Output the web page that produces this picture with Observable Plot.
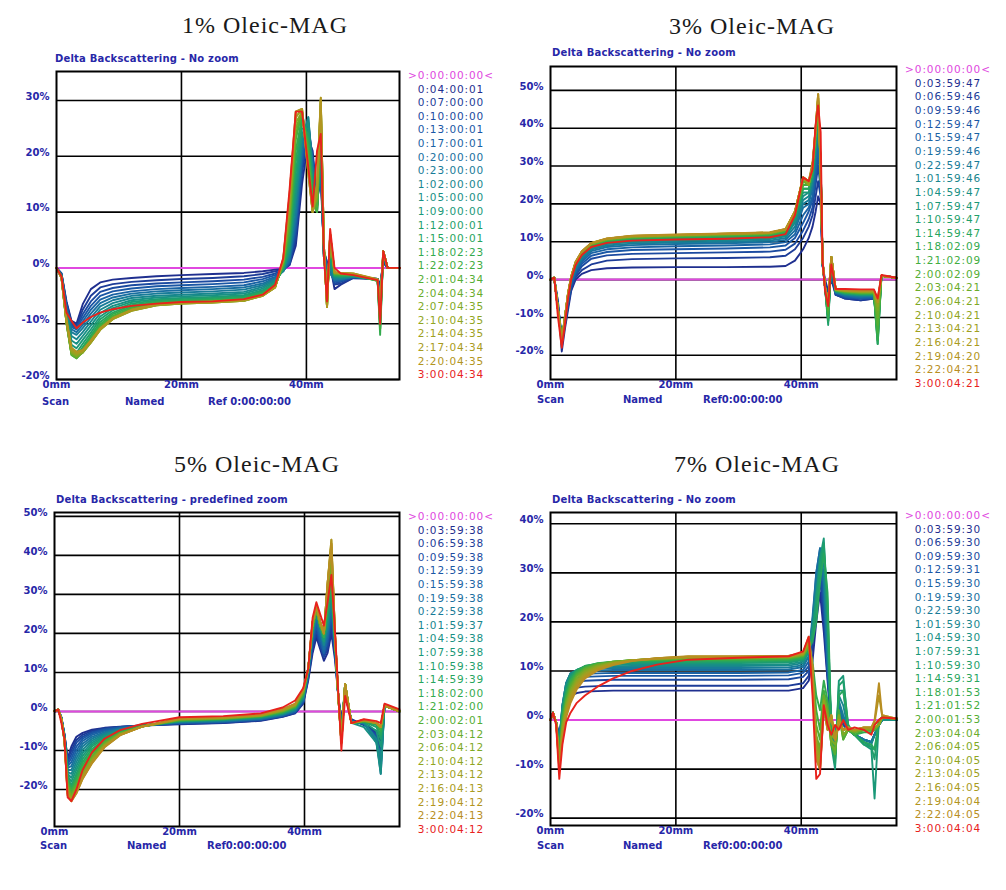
<!DOCTYPE html>
<html><head><meta charset="utf-8">
<script src="https://cdn.jsdelivr.net/npm/d3@7"></script>
<script src="https://cdn.jsdelivr.net/npm/@observablehq/plot@0.6"></script>
<style>
body{margin:0;background:#fff;}
#root{position:relative;width:1006px;height:890px;overflow:hidden;background:#fff;}
.t{position:absolute;white-space:nowrap;line-height:1;}
.p{position:absolute;}
</style></head><body><div id="root"></div>
<script>
// ---------- DATA ----------
const titles = ["1% Oleic-MAG", "3% Oleic-MAG", "5% Oleic-MAG", "7% Oleic-MAG"];
const subtitles = ["Delta Backscattering - No zoom", "Delta Backscattering - No zoom", "Delta Backscattering - predefined zoom", "Delta Backscattering - No zoom"];
const xTicks = [0, 20, 40];
const refLabels = ["Ref 0:00:00:00", "Ref0:00:00:00", "Ref0:00:00:00", "Ref0:00:00:00"];

const legend1 = [">0:00:00:00<","0:04:00:01","0:07:00:00","0:10:00:00","0:13:00:01","0:17:00:01","0:20:00:00","0:23:00:00","1:02:00:00","1:05:00:00","1:09:00:00","1:12:00:01","1:15:00:01","1:18:02:23","1:22:02:23","2:01:04:34","2:04:04:34","2:07:04:35","2:10:04:35","2:14:04:35","2:17:04:34","2:20:04:35","3:00:04:34"];
const legend2 = [">0:00:00:00<","0:03:59:47","0:06:59:46","0:09:59:46","0:12:59:47","0:15:59:47","0:19:59:46","0:22:59:47","1:01:59:46","1:04:59:47","1:07:59:47","1:10:59:47","1:14:59:47","1:18:02:09","1:21:02:09","2:00:02:09","2:03:04:21","2:06:04:21","2:10:04:21","2:13:04:21","2:16:04:21","2:19:04:20","2:22:04:21","3:00:04:21"];
const legend3 = [">0:00:00:00<","0:03:59:38","0:06:59:38","0:09:59:38","0:12:59:39","0:15:59:38","0:19:59:38","0:22:59:38","1:01:59:37","1:04:59:38","1:07:59:38","1:10:59:38","1:14:59:39","1:18:02:00","1:21:02:00","2:00:02:01","2:03:04:12","2:06:04:12","2:10:04:12","2:13:04:12","2:16:04:13","2:19:04:12","2:22:04:13","3:00:04:12"];
const legend4 = [">0:00:00:00<","0:03:59:30","0:06:59:30","0:09:59:30","0:12:59:31","0:15:59:30","0:19:59:30","0:22:59:30","1:01:59:30","1:04:59:30","1:07:59:31","1:10:59:30","1:14:59:31","1:18:01:53","1:21:01:52","2:00:01:53","2:03:04:04","2:06:04:05","2:10:04:05","2:13:04:05","2:16:04:05","2:19:04:04","2:22:04:05","3:00:04:04"];

const yTicks1 = [-20,-10,0,10,20,30];
const yTicks2 = [-20,-10,0,10,20,30,40,50];
const yTicks3 = [-20,-10,0,10,20,30,40,50];
const yTicks4 = [-20,-10,0,10,20,30,40];

// Panel 1 (1%) : positions in mm, delta backscattering in %
const xs1 = [0,0.8,1.6,2.4,3.2,4.2,5.5,7,9,12,16,20,25,30,33,35,36.3,37.3,38.3,39.3,40.3,41,41.7,42.3,42.8,43.3,43.8,44.5,45.5,47.5,51.4,51.8,52.3,53,55];
const rows1 = [
[0,-1,-6,-9.5,-10,-6.5,-3.8,-2.6,-2.1,-1.8,-1.5,-1.3,-1.1,-0.9,-0.6,-0.3,-0.2,0.5,4,15,23,21,12,16,3,1,0.5,-3.8,-3,-1.8,-2,-3,1,0,0],
[0,-1,-6.3,-9.8,-10.3,-7.5,-5,-3.5,-2.9,-2.5,-2.2,-2,-1.8,-1.5,-1.1,-0.6,-0.3,0.6,5,17,24,20,12,17,3,1,0,-3,-2.8,-1.8,-2,-3.5,1,0,0],
[0,-1.1,-6.5,-10,-10.6,-8.3,-6,-4.3,-3.6,-3.1,-2.8,-2.6,-2.4,-2.1,-1.6,-1,-0.4,0.8,6,18,25,20,12,18,2.5,0.5,0,-2.8,-2.5,-1.7,-2,-4,1.5,0,0],
[0,-1.2,-6.8,-10.3,-10.8,-9,-6.8,-5,-4.2,-3.7,-3.3,-3.1,-2.9,-2.6,-2,-1.3,-0.5,1,7,19,25,19,12,18,2.5,0.5,0,-2.5,-2.3,-1.7,-2,-4.5,1.5,0,0],
[0,-1.2,-7,-10.6,-11,-9.6,-7.5,-5.7,-4.8,-4.2,-3.8,-3.6,-3.4,-3.1,-2.4,-1.6,-0.6,1.2,8,20,26,19,12,19,2,0,-0.5,-2.3,-2.2,-1.6,-2,-5,2,0,0],
[0,-1.3,-7.3,-11,-11.5,-10.2,-8.2,-6.3,-5.3,-4.6,-4.2,-4,-3.8,-3.5,-2.8,-1.8,-0.6,1.5,9,21,26,18,11,19,2,0,-1,-2.2,-2,-1.6,-2,-6,2,0,0],
[0,-1.3,-7.6,-11.5,-12,-10.8,-8.9,-6.9,-5.8,-5,-4.6,-4.4,-4.2,-3.9,-3.1,-2,-0.5,2,10,22,27,18,11,20,2,-1,-1,-2,-2,-1.6,-2.1,-7,2,0,0],
[0,-1.4,-8,-12.2,-12.8,-11.5,-9.6,-7.5,-6.3,-5.4,-5,-4.8,-4.6,-4.3,-3.4,-2.2,-0.4,2.5,12,23,27,17,11,21,2,-2,0,-1.8,-1.8,-1.5,-2.1,-8,2.5,0,0],
[0,-1.4,-8.3,-13,-13.6,-12.2,-10.3,-8.1,-6.8,-5.8,-5.3,-5.1,-4.9,-4.6,-3.7,-2.4,-0.3,3,13,24,26,16,11,22,2,-3,1,-1.6,-1.7,-1.5,-2.1,-9,2.5,0,0],
[0,-1.5,-8.6,-13.8,-14.4,-12.9,-11,-8.7,-7.2,-6.1,-5.6,-5.4,-5.2,-4.9,-4,-2.6,-0.2,3.5,15,25,25,15,10,23,2,-4,2,-1.5,-1.6,-1.4,-2.2,-9.5,2.5,0,0],
[0,-1.5,-9,-14.5,-15.2,-13.6,-11.6,-9.2,-7.6,-6.4,-5.8,-5.6,-5.4,-5.1,-4.2,-2.8,0,4,17,26,24,14,10,24,2.5,-5,3,-1.4,-1.5,-1.4,-2.2,-10,3,0,0],
[0,-1.6,-9.3,-15,-15.8,-14.2,-12.1,-9.7,-8,-6.7,-6,-5.8,-5.6,-5.3,-4.4,-3,0.2,5,19,27,23,13,10,25,3,-5,4,-1.3,-1.4,-1.3,-2.3,-11,3,0,0],
[0,-1.6,-9.6,-15.4,-16,-14.6,-12.5,-10.1,-8.3,-7,-6.2,-6,-5.8,-5.5,-4.6,-3.1,0.4,6,21,27,22,12,10,26,3,-6,5,-1.2,-1.3,-1.3,-2.3,-12,3,0,0],
[0,-1.7,-9.8,-15.6,-16.2,-14.9,-12.8,-10.4,-8.6,-7.2,-6.4,-6.1,-5.9,-5.6,-4.7,-3.2,0.6,7,23,28,21,12,10,27,3.5,-6,5,-1.1,-1.2,-1.2,-2.3,-11,3,0,0],
[0,-1.7,-10,-15.6,-16.2,-15.1,-13.1,-10.7,-8.8,-7.4,-6.5,-6.2,-6,-5.7,-4.8,-3.3,0.8,8,24,28,20,11,11,28,4,-7,6,-1,-1.1,-1.2,-2.2,-10,3,0,0],
[0,-1.8,-10,-15.4,-16,-15.2,-13.3,-10.9,-9,-7.5,-6.6,-6.3,-6.1,-5.8,-4.9,-3.4,1,9,25,28,19,11,12,29,4,-7,6,-1,-1.1,-1.2,-2.2,-9,3,0,0],
[0,-1.8,-9.9,-15.2,-15.8,-15.2,-13.4,-11,-9.1,-7.6,-6.7,-6.4,-6.2,-5.9,-5,-3.4,1.2,10,26,28,18,10,13,30,4,-7,6,-0.9,-1,-1.1,-2.2,-8,3,0,0],
[0,-1.8,-9.8,-15,-15.6,-15.1,-13.4,-11.1,-9.2,-7.7,-6.7,-6.4,-6.2,-5.9,-5,-3.5,1.4,11,27,28.5,18,10,13,30,4,-7,6,-0.9,-1,-1.1,-2.1,-7,3,0,0],
[0,-1.8,-9.6,-14.8,-15.4,-15,-13.3,-11.1,-9.2,-7.7,-6.7,-6.4,-6.2,-5.9,-5,-3.5,1.5,12,27,28.5,17,10,14,30,4,-7,6,-0.8,-1,-1.1,-2.1,-7,3,0,0],
[0,-1.8,-9.4,-14.5,-15.2,-14.9,-13.2,-11,-9.1,-7.6,-6.6,-6.3,-6.1,-5.8,-5,-3.5,1.6,13,28,28.5,17,10,15,30.5,4,-7,6,-0.8,-0.9,-1,-2.1,-7,3,0,0],
[0,-1.8,-9.2,-14.3,-15,-14.7,-13,-10.8,-9,-7.5,-6.5,-6.2,-6,-5.7,-4.9,-3.4,1.7,13,28,28.5,17,10,15,30.5,4,-7,6,-0.7,-0.9,-1,-2,-7,3,0,0],
[0,-1.5,-8,-9.5,-10.8,-9.8,-8.8,-8,-7.4,-6.8,-6.4,-6.1,-6,-5.6,-4.8,-3,1.8,14,28,28,18,11,21,24,2,-6,7,0,-1,-1.3,-2.2,-10,3,0,0]
];

// Panel 2 (3%)
const xs2 = [0,0.6,1.2,1.8,2.3,2.8,3.3,4,5,6.5,9,13,20,28,35,37.5,39,40.3,41.2,41.8,42.3,42.7,43.1,43.4,43.8,44.3,44.8,45.5,47,49.5,51.6,52.2,52.8,55.2];
const rows2 = [
[0,0.3,-6,-19,-13,-8,-3,0,1.5,2.5,3,3.2,3.3,3.3,3.4,3.6,5,8,11,14,18,22,20,4,0,-3,0,-4,-5,-5.5,-5,-6,1,0.5],
[0,0.3,-6,-17,-12,-7,-2.5,0.5,2.5,4,5,5.4,5.6,5.7,5.9,6.3,8,11,14,17,22,26,22,4,-1,-4,1,-4,-5,-5.5,-5,-8,1,0.5],
[0,0.3,-7,-16,-12,-6.5,-2,1,3.5,5.5,6.4,6.8,7,7.2,7.4,7.9,9.5,13,16,19,25,30,24,4,-1,-5,2,-4,-4.8,-5,-5,-9,1,0.5],
[0,0.4,-7,-15,-11,-6,-1.5,1.5,4.2,6.3,7.3,7.8,8,8.2,8.5,9,11,15,18,21,27,33,26,4,-1,-6,3,-3.5,-4.6,-5,-4.8,-10,1,0.5],
[0,0.4,-7,-15,-11,-5.5,-1,2,4.8,7,8,8.5,8.8,9,9.3,9.9,12,17,19,22,29,35,27,4,-2,-7,3,-3.5,-4.4,-4.8,-4.6,-11,1,0.5],
[0,0.4,-8,-15,-11,-5,-0.5,2.5,5.3,7.5,8.6,9.1,9.4,9.6,9.9,10.5,13,19,20,24,31,37,28,4,-2,-8,4,-3.5,-4.2,-4.6,-4.4,-12,1,0.5],
[0,0.4,-8,-15,-11,-5,0,3,5.7,7.9,9,9.5,9.8,10,10.3,11,14,20,21,25,33,39,29,4.5,-2,-9,4,-3.4,-4,-4.4,-4.3,-13,1,0.5],
[0,0.4,-8,-16,-11,-4.5,0,3.3,6,8.2,9.4,9.9,10.2,10.4,10.7,11.4,15,21,22,26,34,41,30,4.5,-2,-10,5,-3.3,-3.9,-4.2,-4.2,-14,1,0.5],
[0,0.5,-8,-16,-11,-4.5,0,3.5,6.3,8.5,9.7,10.2,10.5,10.7,11,11.7,15.5,22,23,27,35,42,31,4.5,-2,-11,5,-3.2,-3.8,-4.1,-4.1,-15,1,0.5],
[0,0.5,-8,-16,-10.5,-4.3,0.2,3.7,6.5,8.7,9.9,10.5,10.8,11,11.3,12,16,23,23,27,36,43,31,4.5,-2,-11,5,-3.1,-3.7,-4,-4,-16,1,0.5],
[0,0.5,-8,-16,-10.5,-4.2,0.3,3.8,6.7,8.9,10.1,10.7,11,11.2,11.5,12.3,16.5,24,24,28,37,44,31,5,-2,-12,5,-3,-3.6,-3.9,-3.9,-17,1,0.5],
[0,0.5,-8,-16,-10.5,-4,0.4,4,6.8,9,10.2,10.9,11.2,11.4,11.7,12.5,17,24,24,28,37,45,31,5,-2,-11,6,-3,-3.5,-3.8,-3.8,-17,1,0.5],
[0,0.5,-8,-16,-10,-4,0.5,4.1,6.9,9.1,10.3,11,11.3,11.5,11.9,12.7,17,25,25,29,38,46,31,5,-2,-10,6,-2.9,-3.4,-3.7,-3.7,-16,1,0.5],
[0,0.5,-8,-16,-10,-4,0.5,4.2,7,9.2,10.4,11.1,11.4,11.7,12,12.8,17,25,25,29,38,46,30,5,-2,-9,6,-2.9,-3.3,-3.6,-3.6,-14,1,0.5],
[0,0.5,-8,-16,-10,-4,0.6,4.3,7.1,9.3,10.5,11.2,11.5,11.8,12.1,13,17,26,25,30,38,47,30,5,-2,-8,6,-2.8,-3.2,-3.5,-3.5,-12,1,0.5],
[0,0.5,-8,-16,-10,-3.8,0.6,4.4,7.2,9.4,10.6,11.3,11.6,11.9,12.2,13.1,17.5,26,25,30,39,47,30,5,-2,-7,6,-2.8,-3.1,-3.4,-3.4,-10,1,0.5],
[0,0.5,-8,-16,-10,-3.8,0.7,4.5,7.3,9.5,10.7,11.4,11.7,12,12.3,13.2,18,27,25,30,39,48,30,5,-2,-6,6,-2.7,-3,-3.3,-3.3,-8,1,0.5],
[0,0.5,-8,-16,-10,-3.7,0.7,4.5,7.3,9.5,10.7,11.4,11.7,12,12.3,13.2,18,27,25,30,39,48,29,5,-2,-6,6,-2.7,-3,-3.2,-3.2,-7,1,0.5],
[0,0.5,-8,-17,-10,-3.7,0.8,4.6,7.4,9.6,10.8,11.5,11.8,12.1,12.4,13.3,18,27,26,30,40,48,29,5,-2,-6,6,-2.6,-2.9,-3.1,-3.1,-6,1,0.5],
[0,0.5,-8,-17,-10,-3.6,0.8,4.6,7.4,9.6,10.8,11.5,11.8,12.1,12.4,13.3,18,27,26,30,40,49,29,5,-2,-6,6,-2.6,-2.8,-3,-3,-6,1,0.5],
[0,0.5,-8,-17,-10,-3.6,0.8,4.6,7.4,9.6,10.8,11.5,11.8,12.1,12.4,13.3,18,27,26,30,40,49,29,5,-2,-6,6,-2.6,-2.8,-3,-3,-6,1,0.5],
[0,0.5,-8,-17,-10,-3.5,0.8,4.7,7.5,9.7,10.9,11.6,11.9,12.2,12.5,13.4,18,27,26,31,40,49,29,5,-2,-6,6,-2.5,-2.7,-2.9,-2.9,-5,1,0.5],
[0,0.5,-10,-18,-12,-5,0,3.8,6.5,8.6,9.7,10.3,10.6,10.8,11.2,12,17,27,26,29,41,46,39,5,-3,-7,4,-2.5,-2.5,-2.6,-2.6,-5,1.2,0.5]
];

// Panel 3 (5%)
const xs3 = [0,0.6,1.1,1.6,2.1,2.7,3.5,4.5,6,8,10.5,14,20,27,33,36.5,38.5,39.8,40.6,41.3,41.9,42.5,43.1,43.7,44.3,44.9,45.4,45.9,46.5,47.5,49.5,51.5,52.2,52.8,55.2];
const rows3 = [
[0,0.5,-1.5,-6,-12,-9,-6.5,-5.5,-4.7,-4.2,-3.9,-3.6,-3.3,-3,-2.4,-1.4,-0.5,2,8,15,19,16,13,15,20,13,4,-2,4,-2,-3.5,-5,-8,1.5,0],
[0,0.5,-1.5,-6,-12.5,-10,-7.3,-6,-5,-4.3,-4,-3.6,-3.2,-2.9,-2.3,-1.3,-0.4,2.2,8.5,16,20,17,14,16,22,14,4,-3,4,-2.2,-3.4,-5.5,-10,1.5,0],
[0,0.5,-1.6,-6,-13,-11,-8,-6.5,-5.3,-4.5,-4,-3.6,-3.1,-2.8,-2.2,-1.2,-0.3,2.4,9,17,21,17,14,17,24,15,4,-3,5,-2.3,-3.3,-6,-12,1.5,0],
[0,0.5,-1.6,-6.2,-13.5,-12,-9,-7,-5.6,-4.7,-4.1,-3.6,-3,-2.7,-2.1,-1.1,-0.1,2.6,9,18,22,18,15,18,25,15,4,-4,5,-2.4,-3.2,-6.5,-14,1.5,0],
[0,0.5,-1.7,-6.3,-14,-13,-10,-7.6,-6,-5,-4.2,-3.6,-2.9,-2.6,-2,-1,0,2.8,9.5,19,23,19,15,19,26,16,4,-4,5,-2.5,-3.1,-7,-16,1.5,0],
[0,0.5,-1.7,-6.4,-14.5,-14,-11,-8.3,-6.5,-5.3,-4.4,-3.6,-2.8,-2.5,-1.9,-0.9,0.2,3,10,19,24,20,16,20,27,16,4,-5,6,-2.6,-3,-7.5,-15,1.5,0],
[0,0.5,-1.8,-6.5,-15,-15,-12,-9,-7,-5.6,-4.5,-3.6,-2.7,-2.4,-1.8,-0.8,0.3,3.2,10,20,25,21,17,21,28,17,4,-5,6,-2.7,-2.9,-8,-14,1.5,0],
[0,0.5,-1.8,-6.6,-15.5,-16,-13,-9.8,-7.5,-5.9,-4.6,-3.6,-2.6,-2.3,-1.7,-0.7,0.5,3.4,10.5,20,25,21,17,22,29,17,4,-5,6,-2.8,-2.8,-7,-12,1.5,0],
[0,0.5,-1.9,-6.7,-16,-17,-14,-10.6,-8,-6.2,-4.8,-3.6,-2.5,-2.2,-1.6,-0.6,0.6,3.6,10.5,21,26,22,18,23,30,18,4,-6,6,-2.9,-4,-8,-16,1.5,0],
[0,0.5,-1.9,-6.8,-16.5,-18,-15,-11.4,-8.5,-6.5,-5,-3.7,-2.5,-2.1,-1.5,-0.5,0.7,3.8,11,21,26,22,18,24,31,18,4,-6,7,-3,-2.7,-5,-9,1.5,0],
[0,0.5,-2,-7,-17,-19,-16,-12.2,-9,-6.8,-5.1,-3.7,-2.4,-2,-1.4,-0.4,0.9,4,11,21,26,22,19,25,32,18,4,-6,7,-3,-2.6,-4,-7,1.5,0],
[0,0.5,-2,-7,-17.5,-19.5,-16.8,-13,-9.6,-7.1,-5.3,-3.8,-2.4,-2,-1.3,-0.3,1,4.2,11,22,26,22,19,26,33,18,4,-6,7,-3,-2.6,-3.5,-6,1.5,0],
[0,0.5,-2,-7.2,-18,-20,-17.5,-13.7,-10.2,-7.4,-5.4,-3.8,-2.3,-1.9,-1.3,-0.2,1.1,4.4,11,22,26,22,19,27,34,18,4,-7,7,-3,-2.5,-3,-5,1.5,0],
[0,0.5,-2,-7.4,-18.5,-20.5,-18.2,-14.4,-10.8,-7.7,-5.5,-3.9,-2.3,-1.9,-1.2,-0.1,1.2,4.6,11,22,26,22,20,28,35,18,4,-7,7,-3,-2.5,-3,-4.5,1.5,0],
[0,0.5,-2,-7.5,-19,-21,-18.8,-15,-11.4,-8,-5.6,-3.9,-2.2,-1.8,-1.2,0,1.3,4.8,11,22,26,22,20,29,36,18,4,-7,7,-3,-2.5,-3,-4,1.5,0],
[0,0.5,-2,-7.5,-19.5,-21.5,-19.3,-15.6,-11.8,-8.3,-5.7,-3.9,-2.1,-1.8,-1.1,0.1,1.4,5,11,22,26,22,20,30,38,19,4,-8,7,-3,-2.4,-3,-4,1.5,0],
[0,0.5,-2,-7.5,-20,-22,-19.8,-16,-12.2,-8.5,-5.8,-3.9,-2,-1.7,-1.1,0.2,1.5,5.2,11,23,27,23,20,31,40,19,4,-8,7,-3,-2.4,-3,-4,1.5,0],
[0,0.5,-2,-7.5,-20.5,-22.5,-20.2,-16.4,-12.5,-8.7,-5.9,-3.9,-2,-1.7,-1,0.3,1.6,5.3,11,23,27,23,20,32,42,19,4,-8,7,-3,-2.3,-3,-4,1.5,0],
[0,0.5,-2,-7.5,-21,-22.5,-20.5,-16.7,-12.8,-8.9,-6,-3.9,-1.9,-1.6,-1,0.4,1.7,5.4,11,23,27,23,20,33,43,19,4,-8,7,-3,-2.3,-3,-4,1.5,0],
[0,0.5,-2,-7.5,-21,-22.8,-20.7,-17,-13,-9,-6,-3.9,-1.9,-1.6,-0.9,0.5,1.8,5.5,11,23,27,23,20,33,44,19,4,-8,7,-3,-2.2,-3,-4,1.5,0],
[0,0.5,-2,-7.5,-21.5,-23,-21,-17.2,-13.2,-9.1,-6.1,-3.9,-1.8,-1.5,-0.9,0.6,1.9,5.6,11,23,27,23,20,33,44,19,4,-8,7,-3,-2.2,-3,-4,1.5,0],
[0,0.5,-2,-7.5,-21.5,-23,-21,-17.3,-13.3,-9.2,-6.1,-3.9,-1.8,-1.5,-0.8,0.6,2,5.7,11,23,27,23,20,33,43,19,4,-8,7,-3,-2.1,-3,-4,1.5,0],
[0,0.5,-3,-7,-22,-23,-20,-15,-10.5,-7,-4.8,-3.2,-1.5,-1.2,-0.5,1,2.8,6,11,24,28,25,22,28,35,20,5,-10,4,-3,-2,-2.5,-3,2,0.5]
];

// Panel 4 (7%)
const xs4 = [0,0.4,0.9,1.4,1.9,2.5,3.2,4.2,5.5,7.5,10,13,17,22,30,38,40.3,41.2,41.8,42.4,43,43.6,44.2,44.8,45.4,46,46.7,47.5,48.5,50,51.2,51.7,52.4,52.9,55.2];
const rows4 = [
[0,1.5,-0.5,-3,0,3,5,5.5,5.8,5.9,6,6,6,6,6,6,6.5,8,12,20,26,18,8,-2,-4,1,-1,-2,-3,-4,-4.5,-3,-1,0,0],
[0,1.5,-0.5,-3.5,1,4,6,6.6,6.8,6.9,7,7,7,7,7,7,7.5,9,15,24,29,20,9,-1,-4,2,-1,-2,-3,-4,-4.5,-3,-1,0,0],
[0,1.5,-0.5,-4,1.5,5,7,7.8,8,8.1,8.2,8.2,8.2,8.2,8.2,8.3,8.8,10,17,26,31,22,10,-1,-5,3,-1,-2,-3,-4,-4.5,-3,-1,0,0],
[0,1.5,-0.5,-4,2,6,8,8.6,8.8,8.9,9,9,9,9,9,9.1,9.6,11,19,28,33,24,10,-1,-5,3,0,-2,-3,-4,-4.5,-3,-1,0,0],
[0,1.5,-0.5,-4.5,2.5,7,9,9.3,9.4,9.5,9.6,9.6,9.6,9.6,9.6,9.7,10.2,12,20,30,35,27,11,0,-5,3,0,-2,-3,-4,-4.5,-3,-1,0,0],
[0,1.5,-0.5,-4.5,3,7.5,9.5,9.8,10,10.1,10.2,10.2,10.2,10.2,10.2,10.3,10.8,13,21,30,35,28,12,0,-5,3,0,-2,-3,-4,-4.5,-3,-1,0,0],
[0,1.5,-0.5,-5,3,7.5,9.5,10,10.3,10.5,10.6,10.6,10.6,10.6,10.6,10.7,11.2,13,20,28,33,30,14,-1,-6,4,1,-2,-3,-4,-4.5,-3,-1,0,0],
[0,1.5,-0.5,-5,3,7.5,9.5,10.2,10.6,10.8,10.9,11,11,11,11,11.1,11.6,14,19,26,31,32,17,-2,-7,5,3,-2,-3,-4.5,-5,-3,-1,0,0],
[0,1.5,-0.5,-5.5,2.5,7,9.3,10.2,10.8,11.1,11.2,11.3,11.3,11.3,11.3,11.4,11.9,14,18,24,30,35,22,-3,-8,6,6,-2,-3,-4.5,-5.5,-6,-1,0,0],
[0,1.5,-0.5,-6,2,6.5,9,10.2,10.9,11.3,11.5,11.6,11.6,11.6,11.6,11.7,12.2,14,18,25,33,37,20,-5,-10,8,9,-2,-3,-5,-6,-16,0,0.5,0.3],
[0,1.5,-0.5,-6,1.5,6,8.7,10.2,11,11.4,11.7,11.8,11.8,11.8,11.8,11.9,12.4,14.5,17,23,31,36,24,-4,-9,7,8,-1,-3,-5,-5.5,-8,0,0.5,0.3],
[0,1.5,-0.5,-6.5,1,5.5,8.3,10,11,11.5,11.8,12,12,12,12,12.1,12.6,14.5,16,20,28,34,26,-3,-8,5,6,-1,-3,-4.5,-5,-6,0,0.5,0.3],
[0,1.5,-0.5,-7,0.5,5,8,9.8,10.9,11.6,11.9,12.1,12.2,12.2,12.2,12.3,12.8,15,12,5,2,8,4,-4,-7,2,-3,-2,-3,-2.5,-2.5,-2,-1,0.5,0.3],
[0,1.5,-0.5,-7,0,4.5,7.5,9.5,10.7,11.5,11.9,12.2,12.3,12.4,12.4,12.5,13,15,11,2,-2,6,3,-5,-7,2,-4,-2,-3,-2,-2.2,-2,-1,0.5,0.3],
[0,1.5,-0.5,-8,-0.5,4,7,9.2,10.5,11.4,11.9,12.2,12.4,12.5,12.5,12.6,13.1,15,10,-1,-4,5,2,-5,-7,1,-4,-2,-2.5,-2,-2,-2,-1,0.5,0.3],
[0,1.5,-0.5,-8,-1,3.5,6.5,8.9,10.3,11.3,11.9,12.2,12.4,12.6,12.6,12.7,13.2,15,9,-3,-6,5,2,-5,-6,1,-3,-2,-2.5,-2,-2,-2,-1,0.5,0.3],
[0,1.5,-0.5,-8.5,-1.5,3,6,8.5,10,11.1,11.8,12.2,12.5,12.7,12.7,12.8,13.3,15.5,8,-4,-7,4,1,-4,-5,1,-3,-2,-2.3,-1.8,-1.8,-1.5,-1,0.5,0.3],
[0,1.5,-0.5,-9,-2,2.5,5.5,8,9.7,10.9,11.7,12.2,12.5,12.8,12.8,12.9,13.4,16,8,-5,-8,4,0,-3,-4,0,-2,-2,-2.2,-1.8,-1.8,-1.5,-1,0.5,0.3],
[0,1.5,-0.5,-9,-2.5,2,5,7.6,9.4,10.7,11.6,12.2,12.5,12.8,12.8,12.9,13.5,16,9,-6,-9,3,-1,1,-4,0,-2,-1.5,-2,-1.6,-1.6,-1,0,0.5,0.3],
[0,1.5,-0.5,-9.5,-3,1.5,4.5,7.2,9.1,10.5,11.5,12.1,12.6,12.9,12.9,13,13.6,16.5,10,-7,-10,3,-2,1,-4,0,-2,-1.5,-2,-1.5,-1.5,-1,0,0.5,0.3],
[0,1.5,-0.5,-10,-3.5,1,4,6.8,8.8,10.3,11.4,12.1,12.6,12.9,12.9,13,13.6,16.5,11,-8,-10,3,-2,1,-4,0,-2,-1.5,-2,-1.5,-1.5,-0.5,5,1,0.3],
[0,1.5,-0.5,-10,-4,0.5,3.5,6.3,8.5,10.1,11.2,12,12.6,13,13,13.1,13.7,17,11,-8,-10,2,-2,1,-4,-1,-2,-1.5,-2,-1.5,-1.5,0,7.5,1,0.3],
[0,1.5,-1,-12,-5,-0.5,1.5,3.5,5,6.8,8.5,10,11.3,12.3,12.7,13,14,17,5,-12,-11,3,-1,-3,-1,-2,0,-2,-1.5,-2,-3,-1,0,0.5,0.3]
];

// ---------- STYLE ----------
const palette23 = ["#1f2f8f","#1d3c98","#1b4aa0","#1a57a5","#1a63a4","#196fa0","#187b98","#18868e","#189084","#1a9878","#1f9f6b","#27a55d","#33aa4e","#42ad40","#55ae33","#6aac2a","#7fa925","#90a521","#9ea020","#a99b20","#b29520","#b88e22","#e8221c"];
const palette22 = palette23.filter((c, i) => i !== 21);
const navy = "#2727a8";
const refColor = "#e048e0";

const panels = [
  {xs: xs1, rows: rows1, legend: legend1, yt: yTicks1, ydom: [-20, 35.2], xmax: 54.9, pal: palette22,
   left: 0, top: 62, width: 405, height: 340, ml: 56, mr: 6, mt: 9, mb: 23,
   tx: 265, ty: 25, sx: 55, sy: 59, lx: 451, ly: 75, ld: 13.6, by: 402, bx: [42, 125, 208]},
  {xs: xs2, rows: rows2, legend: legend2, yt: yTicks2, ydom: [-26.4, 56.3], xmax: 55.2, pal: palette23,
   left: 500, top: 56, width: 400, height: 340, ml: 50, mr: 4, mt: 10, mb: 17,
   tx: 752, ty: 26, sx: 552, sy: 53, lx: 948, ly: 69, ld: 13.65, by: 400, bx: [537, 623, 703]},
  {xs: xs3, rows: rows3, legend: legend3, yt: yTicks3, ydom: [-29.5, 51], xmax: 55.2, pal: palette23,
   left: 0, top: 503, width: 405, height: 345, ml: 54, mr: 6, mt: 9, mb: 22,
   tx: 257, ty: 464, sx: 56, sy: 500, lx: 451, ly: 516, ld: 13.6, by: 846, bx: [40, 127, 207]},
  {xs: xs4, rows: rows4, legend: legend4, yt: yTicks4, ydom: [-21.5, 42.3], xmax: 55.2, pal: palette23,
   left: 500, top: 503, width: 400, height: 345, ml: 50, mr: 4, mt: 9, mb: 23,
   tx: 757, ty: 464, sx: 552, sy: 500, lx: 948, ly: 515, ld: 13.6, by: 846, bx: [537, 623, 703]}
];

const root = document.getElementById("root");
function put(x, y, s, css, center) {
  const d = document.createElement("div");
  d.className = "t";
  d.textContent = s;
  d.style.left = x + "px";
  d.style.top = y + "px";
  d.style.transform = center ? "translate(-50%,-50%)" : "translate(0,-50%)";
  Object.assign(d.style, css);
  root.appendChild(d);
}

panels.forEach((p, k) => {
  const data = [];
  p.rows.forEach((row, i) => row.forEach((y, j) => { if (j < p.xs.length) data.push({x: p.xs[j], y, s: i}); }));
  const chart = Plot.plot({
    width: p.width, height: p.height,
    marginLeft: p.ml, marginRight: p.mr, marginTop: p.mt, marginBottom: p.mb,
    style: {background: "transparent", overflow: "visible", maxWidth: "none", fontFamily: "DejaVu Sans"},
    x: {domain: [0, p.xmax]},
    y: {domain: p.ydom},
    color: {type: "ordinal", domain: d3.range(p.rows.length), range: p.pal},
    marks: [
      Plot.ruleY(p.yt, {stroke: "#000", strokeWidth: 1.6}),
      Plot.ruleX([20, 40], {stroke: "#000", strokeWidth: 1.6}),
      Plot.ruleY([0], {stroke: refColor, strokeWidth: 2}),
      Plot.line(data, {x: "x", y: "y", z: "s", stroke: "s", strokeWidth: 1.9}),
      Plot.frame({stroke: "#000", strokeWidth: 2}),
      Plot.axisX({ticks: xTicks, tickSize: 0, tickPadding: 1, tickFormat: d => d + "mm", fill: navy, fontSize: 10, fontWeight: "bold", label: null}),
      Plot.axisY({ticks: p.yt, tickSize: 0, tickPadding: 7, tickFormat: d => d + "%", fill: navy, fontSize: 10, fontWeight: "bold", dy: -4, label: null})
    ]
  });
  const wrap = document.createElement("div");
  wrap.className = "p";
  wrap.style.left = p.left + "px";
  wrap.style.top = p.top + "px";
  wrap.appendChild(chart);
  root.appendChild(wrap);

  put(p.tx, p.ty, titles[k], {fontFamily: "'Liberation Serif', serif", fontSize: "24px", letterSpacing: "1px", color: "#1a1a1a"}, true);
  put(p.sx, p.sy, subtitles[k], {fontFamily: "'DejaVu Sans'", fontSize: "10px", fontWeight: "bold", color: navy, letterSpacing: "0.2px"});
  p.legend.forEach((s, i) => {
    put(p.lx, p.ly + i * p.ld, s, {fontFamily: "'DejaVu Sans'", fontSize: "10.5px", letterSpacing: "0.9px", color: i === 0 ? refColor : p.pal[i - 1]}, true);
  });
  const bl = ["Scan", "Named", refLabels[k]];
  bl.forEach((s, i) => put(p.bx[i], p.by, s, {fontFamily: "'DejaVu Sans'", fontSize: "10px", fontWeight: "bold", color: navy}));
});
</script>
</body></html>
